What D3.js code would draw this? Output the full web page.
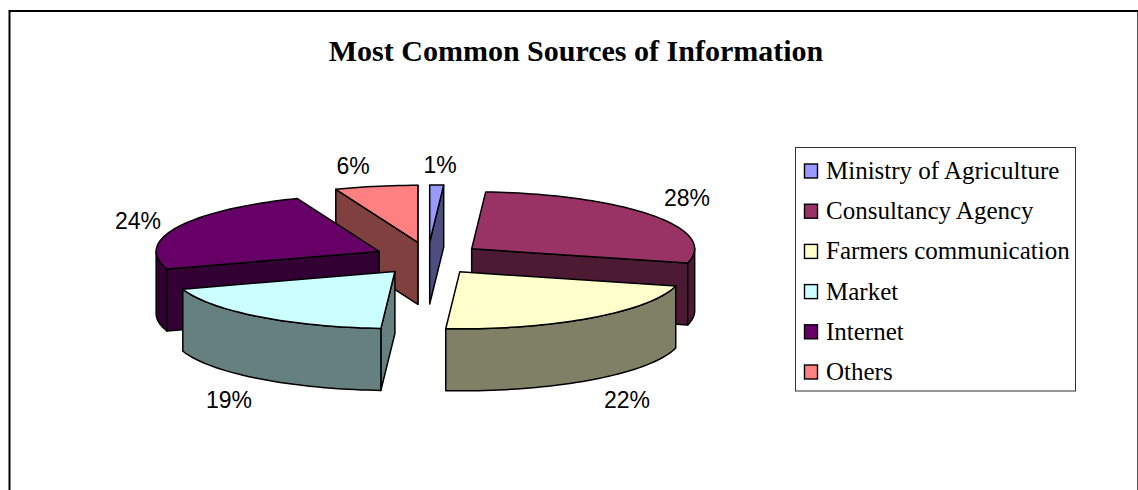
<!DOCTYPE html>
<html>
<head>
<meta charset="utf-8">
<script src="https://cdn.jsdelivr.net/npm/d3@7/dist/d3.min.js"></script>
<style>
  html, body { margin: 0; padding: 0; background: #fff; }
  svg { display: block; }
</style>
</head>
<body>
<svg id="chart" width="1138" height="490"></svg>
<script>
const categories = ["Ministry of Agriculture", "Consultancy Agency", "Farmers communication", "Market", "Internet", "Others"];
const shares = [1, 28, 22, 19, 24, 6];
const faceColors = ["#9999FF", "#993366", "#FFFFCC", "#CCFFFF", "#660066", "#FF8080"];
const chartTitle = "Most Common Sources of Information";

const svg = d3.select("#chart");
const SERIF = "'Liberation Serif', 'Times New Roman', serif";
const SANS = "'Liberation Sans', Arial, sans-serif";

// Outer chart frame; the bottom edge runs past the page.
svg.append("path")
  .attr("d", "M1137.5,11V490")
  .attr("fill", "none")
  .attr("stroke", "#555")
  .attr("stroke-width", 1);
svg.append("path")
  .attr("d", "M9.5,490V11H1138")
  .attr("fill", "none")
  .attr("stroke", "#000")
  .attr("stroke-width", 2);

svg.append("text")
  .attr("x", 576).attr("y", 61)
  .attr("text-anchor", "middle")
  .attr("font-family", SERIF)
  .attr("font-weight", "bold")
  .attr("font-size", 30)
  .text(chartTitle);

// Tilted pie: angles run clockwise from twelve o'clock.
const pie = { cx: 428, cy: 258.5, rx: 223, ry: 57, depth: 62, explodeX: 54, explodeY: 16.5 };
const arcs = d3.pie().sort(null).value(d => d)(shares);
const color = d3.scaleOrdinal().domain(categories).range(faceColors);
const wallColor = c => { const r = d3.rgb(c); return d3.rgb(r.r / 2, r.g / 2, r.b / 2).formatHex(); };
const line = d3.line();

function apex(a) {
  const mid = (a.startAngle + a.endAngle) / 2;
  return [pie.cx + pie.explodeX * Math.sin(mid), pie.cy - pie.explodeY * Math.cos(mid)];
}
function rimPoints(a, from, to) {
  const [ax, ay] = apex(a);
  const n = Math.max(2, Math.ceil((to - from) / 0.03));
  return d3.range(n + 1).map(i => {
    const t = from + (to - from) * i / n;
    return [ax + pie.rx * Math.sin(t), ay - pie.ry * Math.cos(t)];
  });
}
const lowered = pts => pts.map(([x, y]) => [x, y + pie.depth]);

// Back-to-front painting order of the slices.
const paintOrder = [0, 5, 1, 4, 2, 3];
const g = svg.append("g")
  .attr("stroke", "#000").attr("stroke-width", 1.5).attr("stroke-linejoin", "round");

paintOrder.forEach(i => {
  const a = arcs[i], fill = color(categories[i]), wall = wallColor(fill);
  const c = apex(a);
  const s = a.startAngle, e = a.endAngle;
  const rimStart = rimPoints(a, s, s)[0], rimEnd = rimPoints(a, e, e)[0];
  const drawWall = pts => g.append("path").attr("d", line(pts) + "Z").attr("fill", wall);

  // Radial walls face the viewer only on one side of the pie.
  if (Math.sin(e) > 0) drawWall([c, rimEnd, ...lowered([rimEnd, c])]);
  if (Math.sin(s) < 0) drawWall([c, rimStart, ...lowered([rimStart, c])]);

  // Curved outer wall over the part of the rim on the near side.
  const from = Math.max(s, Math.PI / 2), to = Math.min(e, 3 * Math.PI / 2);
  if (to > from) {
    const rim = rimPoints(a, from, to);
    drawWall([...rim, ...lowered(rim).reverse()]);
  }
  g.append("path")
    .attr("d", line([c, ...rimPoints(a, s, e)]) + "Z")
    .attr("fill", fill);
});

// Percentage labels sit just beyond each slice.
const labelSpots = [[440, 173], [687, 206], [627, 408], [229, 408], [138, 229], [353, 174]];
svg.append("g")
  .attr("font-family", SANS).attr("font-size", 23).attr("text-anchor", "middle")
  .selectAll("text").data(shares).join("text")
  .attr("x", (d, i) => labelSpots[i][0])
  .attr("y", (d, i) => labelSpots[i][1])
  .text(d => d + "%");

// Legend
svg.append("rect")
  .attr("x", 795.5).attr("y", 147.5).attr("width", 280).attr("height", 243.5)
  .attr("fill", "#fff").attr("stroke", "#333").attr("stroke-width", 1);

const legendY = d3.scalePoint().domain(categories).range([171, 372]);
const legend = svg.append("g").selectAll("g").data(categories).join("g")
  .attr("transform", d => `translate(0,${legendY(d)})`);
legend.append("rect")
  .attr("x", 804.5).attr("y", -7).attr("width", 13).attr("height", 14)
  .attr("fill", d => color(d)).attr("stroke", "#000").attr("stroke-width", 1.4);
legend.append("text")
  .attr("x", 826).attr("y", 8)
  .attr("font-family", SERIF).attr("font-size", 25)
  .text(d => d);
</script>
</body>
</html>
